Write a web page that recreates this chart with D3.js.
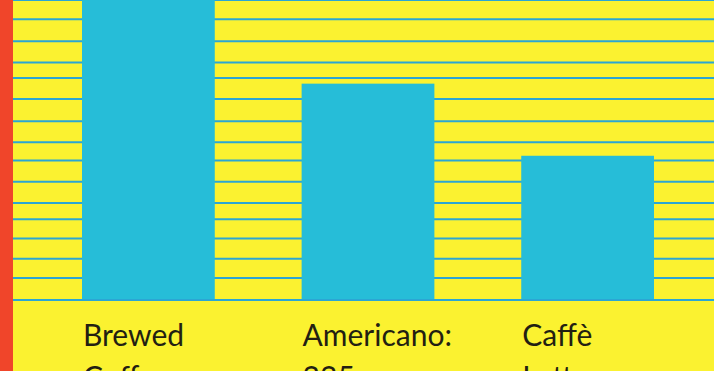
<html>
    <head>
    <script src="https://d3js.org/d3.v7.min.js"></script>
    <style>
        body { margin: 0; overflow: hidden; background: #fbf230; }
        .label { font-family: Lato, sans-serif; font-size: 30px; fill: #231f12; }
    </style>
    </head>
    <body>
        <div id="chart-container"></div>
        <script>
            // Caffeine per drink (mg); brewed coffee runs off the top of the crop
            const categories = ['Brewed Coffee', 'Americano', 'Caffè Latte'];
            const caffeine = [330, 225, 150];
            const labelLines = [['Brewed', 'Coffee:'], ['Americano:', '225mg'], ['Caffè', 'Latte:']];
            // ruled lines behind the bars, in mg
            const gridValues = [0, 23, 43, 64, 84, 101, 123, 145, 164, 186, 209, 231, 247, 269, 292, 312];

            const width = 714;
            const height = 371;
            const stripWidth = 13;
            const baseY = 300;

            const svg = d3.select('#chart-container').append('svg')
                .attr('width', width)
                .attr('height', height);

            svg.append('rect')
                .attr('width', width)
                .attr('height', height)
                .attr('fill', '#fbf230');

            const xScale = d3.scaleBand()
                .domain(categories)
                .range([82, 654])
                .paddingInner(0.3955);
            const yScale = d3.scaleLinear()
                .domain([0, 312])
                .range([baseY, 0]);

            // ruled lines
            svg.append('g')
                .selectAll('line')
                .data(gridValues)
                .join('line')
                .attr('x1', stripWidth)
                .attr('x2', width)
                .attr('y1', d => yScale(d))
                .attr('y2', d => yScale(d))
                .attr('stroke', '#2ba6d4')
                .attr('stroke-width', 2);

            // bars
            svg.append('g')
                .selectAll('rect')
                .data(categories)
                .join('rect')
                .attr('x', d => xScale(d))
                .attr('y', (d, i) => yScale(caffeine[i]))
                .attr('width', xScale.bandwidth())
                .attr('height', (d, i) => yScale(0) - yScale(caffeine[i]))
                .attr('fill', '#26bdd8');

            // baseline over the bar bottoms
            svg.append('line')
                .attr('x1', stripWidth)
                .attr('x2', width)
                .attr('y1', yScale(0))
                .attr('y2', yScale(0))
                .attr('stroke', '#2ba6d4')
                .attr('stroke-width', 2);

            // red strip on the left edge
            svg.append('rect')
                .attr('width', stripWidth)
                .attr('height', height)
                .attr('fill', '#f0452a');

            // labels under each bar
            const labels = svg.append('g')
                .selectAll('text')
                .data(categories)
                .join('text')
                .attr('class', 'label')
                .attr('x', d => xScale(d) + 1)
                .attr('y', 346);
            labels.selectAll('tspan')
                .data((d, i) => labelLines[i])
                .join('tspan')
                .attr('x', function () { return this.parentNode.getAttribute('x'); })
                .attr('dy', (d, i) => i === 0 ? 0 : 42)
                .text(d => d);
        </script>
    </body>
</html>
